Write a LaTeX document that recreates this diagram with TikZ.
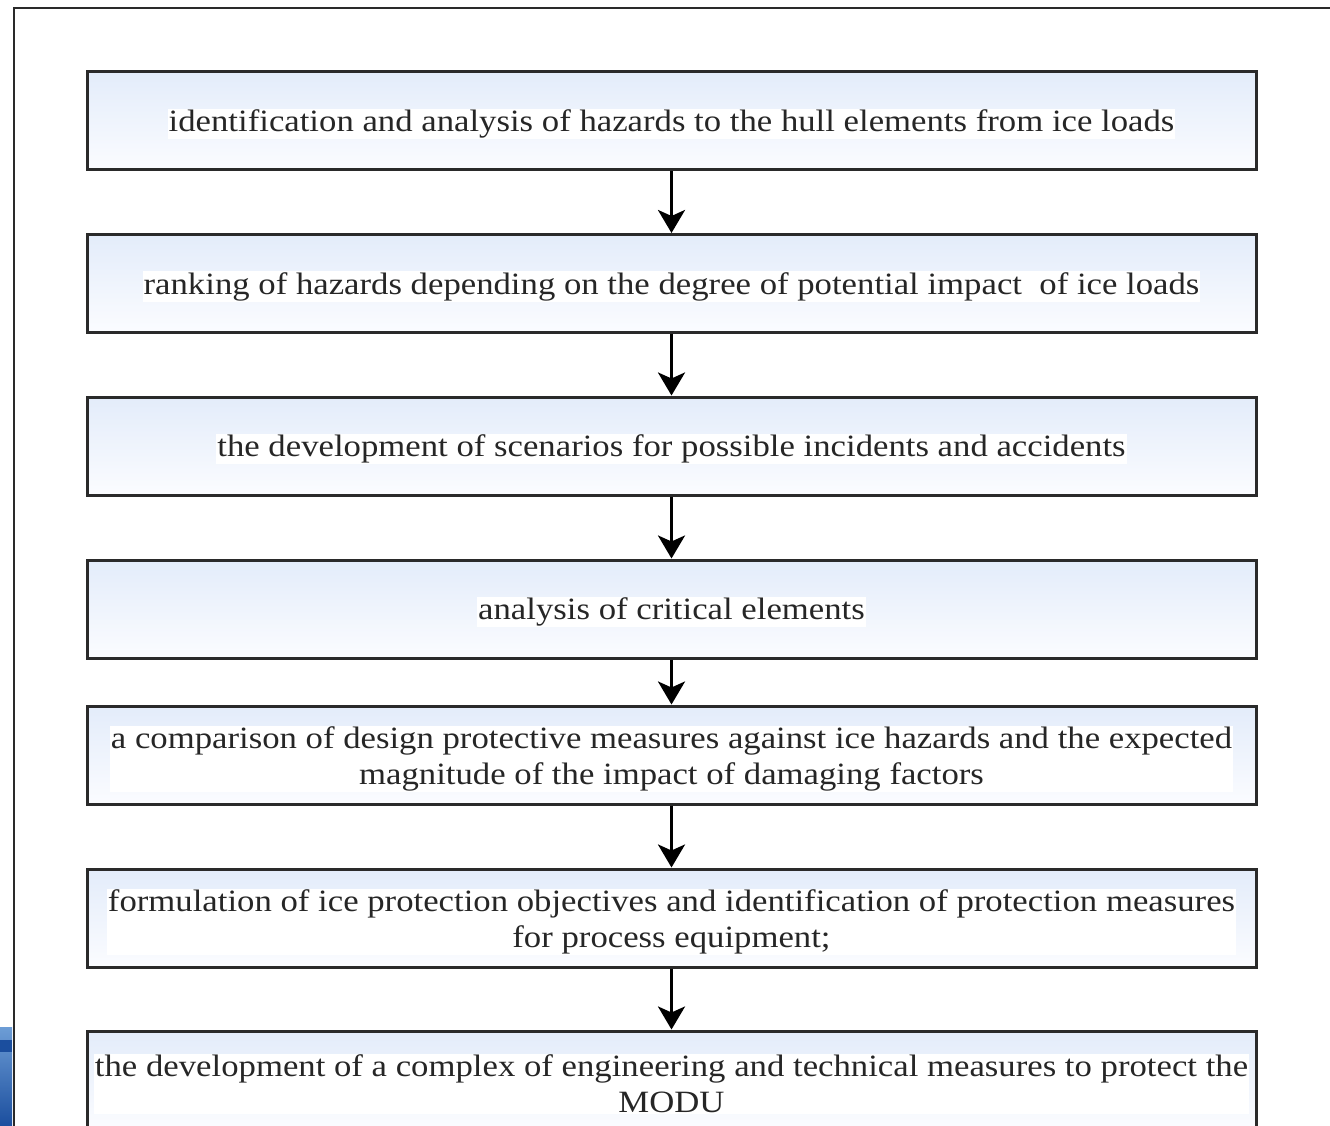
\documentclass[tikz,border=0pt]{standalone}
\usepackage{fontspec}
\setmainfont{Liberation Serif}[FakeStretch=1.12]
\usetikzlibrary{arrows.meta}
\definecolor{boxtop}{HTML}{E3ECFA}
\definecolor{boxbot}{HTML}{FBFCFF}
\definecolor{framegray}{HTML}{2A2A2A}
\definecolor{edgeblue}{HTML}{2E73C4}
\definecolor{edgedark}{HTML}{1B4E9E}
\tikzset{
  stepbox/.style={draw=framegray, line width=3pt, rectangle,
    minimum width=1169pt, minimum height=98pt, inner sep=0pt,
    top color=boxtop, bottom color=boxbot},
  boxtext/.style={fill=white, inner sep=1pt, align=center, text=black!85,
    font=\fontsize{31}{36}\selectfont},
  flow/.style={line width=3.2pt, black,
    -{Stealth[length=23pt, width=27pt, inset=6pt]}}
}
\begin{document}
\begin{tikzpicture}[x=1pt, y=-1pt]
  \useasboundingbox (0,0) rectangle (1330,1126);
  \begin{scope}
    \clip (0,0) rectangle (1330,1126);
    % outer frame, open towards the right and the bottom
    \draw[framegray, line width=2.6pt] (14,1140) -- (14,8) -- (1340,8);
    % blue strip at the lower left edge
    \shade[top color=edgeblue!70, bottom color=edgedark] (0,1027) rectangle (12,1126);
    \fill[edgedark] (0,1040) rectangle (12,1052);

    % process steps
    \node[stepbox] (b1) at (671.5,121) {};
    \node[stepbox] (b2) at (671.5,283.5) {};
    \node[stepbox] (b3) at (671.5,446) {};
    \node[stepbox] (b4) at (671.5,609) {};
    \node[stepbox] (b5) at (671.5,755) {};
    \node[stepbox] (b6) at (671.5,918) {};
    \node[stepbox] (b7) at (671.5,1080) {};

    \node[boxtext] (t1) at ([yshift=-3pt]b1.center) {identification and analysis of hazards to the hull elements from ice loads};
    \node[boxtext] (t2) at ([yshift=-3pt]b2.center) {ranking of hazards depending on the degree of potential impact\ \ of ice loads};
    \node[boxtext] (t3) at ([yshift=-3pt]b3.center) {the development of scenarios for possible incidents and accidents};
    \node[boxtext] (t4) at ([yshift=-3pt]b4.center) {analysis of critical elements};
    \node[boxtext] (t5) at ([yshift=-4pt]b5.center) {a comparison of design protective measures against ice hazards and the expected\\magnitude of the impact of damaging factors};
    \node[boxtext] (t6) at ([yshift=-4pt]b6.center) {formulation of ice protection objectives and identification of protection measures\\for process equipment;};
    \node[boxtext] (t7) at ([yshift=-4pt]b7.center) {the development of a complex of engineering and technical measures to protect the\\MODU};

    % connectors
    \draw[flow] (b1.south) -- (b2.north);
    \draw[flow] (b2.south) -- (b3.north);
    \draw[flow] (b3.south) -- (b4.north);
    \draw[flow] (b4.south) -- (b5.north);
    \draw[flow] (b5.south) -- (b6.north);
    \draw[flow] (b6.south) -- (b7.north);
  \end{scope}
\end{tikzpicture}
\end{document}
